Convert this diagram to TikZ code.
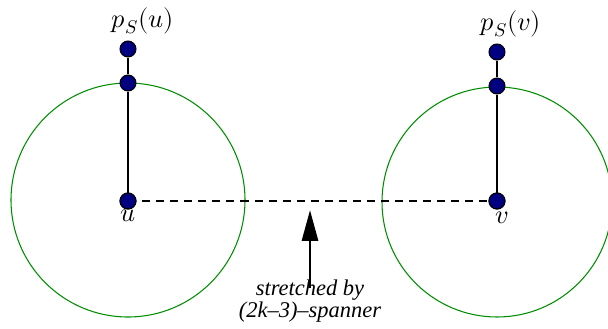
\documentclass[tikz,border=0pt]{standalone}
\usepackage{fontspec}
\setmainfont{Liberation Serif}
\usepackage{unicode-math}
\setmathfont{Latin Modern Math}
\usetikzlibrary{arrows.meta}
\definecolor{dotblue}{RGB}{0,0,128}
\definecolor{ringgreen}{RGB}{0,140,0}
\begin{document}
\begin{tikzpicture}[
		x=0.02cm, y=-0.02cm,
		vertex/.style={circle, draw, fill=dotblue, line width=0.6pt, minimum size=0.32cm, inner sep=0pt},
		ring/.style={draw=ringgreen, line width=0.6pt},
		lab/.style={inner sep=0pt, font=\fontsize{15}{18}\selectfont},
		note/.style={inner sep=0pt, font=\fontsize{12.8}{15}\selectfont\itshape},
	]
	\useasboundingbox (0,0) rectangle (608,328);

	% balls round u and v
	\draw[ring] (128,200) circle (117);
	\draw[ring] (497,202) circle (115);

	% u side
	\node[vertex] (pu) at (128,49)  {};
	\node[vertex] (tu) at (128,83)  {};
	\node[vertex] (u)  at (128,201) {};
	\node[lab] (lpu) at (143,21)  {$p_S(u)$};
	\node[lab] (lu)  at (128,216) {$u$};

	% v side
	\node[vertex] (pv) at (497,52)  {};
	\node[vertex] (tv) at (497,86)  {};
	\node[vertex] (v)  at (497,201) {};
	\node[lab] (lpv) at (511,24)  {$p_S(v)$};
	\node[lab] (lv)  at (502,218) {$v$};

	% u -- v
	\draw[line width=1.2pt, dash pattern=on 4.6pt off 3.4pt] (u.center) -- (v.center);

	% paths to p_S
	\draw[line width=0.6pt] (u.center) -- (tu) -- (pu);
	\draw[line width=0.6pt] (v.center) -- (tv) -- (pv);
	\node[vertex] at (u) {};
	\node[vertex] at (v) {};

	% note
	\node[note] (t1) at (310,290) {stretched by};
	\node[note] (t2) at (310,312) {(2k–3)–spanner};
	\coordinate (ahead) at (310,210);
	\draw[line width=1.7pt, -{Triangle[length=0.62cm, width=0.32cm]}] ([yshift=-5pt]t1.north) -- (ahead);
\end{tikzpicture}
\end{document}
